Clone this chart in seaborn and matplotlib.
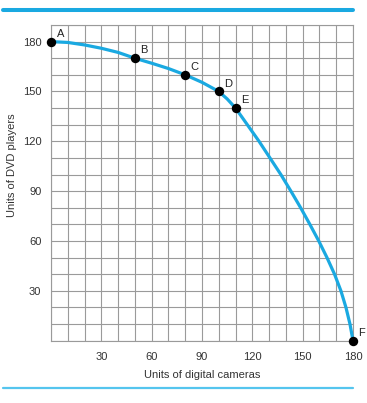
import matplotlib
matplotlib.use("Agg")
import matplotlib.pyplot as plt
import seaborn as sns
import pandas as pd
from matplotlib.lines import Line2D

sns.set_theme(style="white")
plt.rcParams['font.family'] = ['Liberation Sans', 'DejaVu Sans']

# curve
curve_x = [0, 10, 20, 30, 40, 50, 60, 70, 80, 90, 100, 105, 110, 117, 124, 130.5, 137, 143, 148.8, 154.3, 159.6, 164.5, 169, 172.8, 175.8, 178.2, 180]
curve_y = [180, 179.5, 178, 176, 173.5, 170, 167, 163.8, 160, 155.5, 150, 145.5, 140, 130, 120, 110, 100, 90, 80, 70, 60, 50, 40, 30, 20, 10, 0]

point_labels = ["A", "B", "C", "D", "E", "F"]
point_x = [0, 50, 80, 100, 110, 180]
point_y = [180, 170, 160, 150, 140, 0]

tick_vals = [30, 60, 90, 120, 150, 180]

curve = pd.DataFrame({"cameras": curve_x, "dvd": curve_y})
pts = pd.DataFrame({"cameras": point_x, "dvd": point_y, "label": point_labels})

fig = plt.figure(figsize=(3.67, 4.03), dpi=100)
ax = fig.add_axes([51/367, 1 - 340.7/403, 302/367, (340.7 - 25)/403])

sns.lineplot(data=curve, x="cameras", y="dvd", ax=ax, color="#1aa9e1", linewidth=2.3,
             sort=False, clip_on=False, zorder=3)
sns.scatterplot(data=pts, x="cameras", y="dvd", ax=ax, color="black", s=46,
                edgecolor="black", linewidth=0, clip_on=False, zorder=4)
for lab, xv, yv in zip(point_labels, point_x, point_y):
    ax.annotate(lab, (xv, yv), xytext=(4, 3.5), textcoords="offset points",
                fontsize=8, color="#222222", ha="left", va="baseline")

ax.set_xlim(0, 180)
ax.set_ylim(0, 190)
ax.set_xticks(range(0, 181, 10))
ax.set_yticks(range(0, 191, 10))
ax.set_xticklabels([str(v) if v in tick_vals else "" for v in range(0, 181, 10)])
ax.set_yticklabels([str(v) if v in tick_vals else "" for v in range(0, 191, 10)])
ax.tick_params(axis="both", length=0, labelsize=8, colors="#333333")
ax.tick_params(axis="x", pad=8)
ax.tick_params(axis="y", pad=7)
ax.grid(True, color="#9a9a9a", linewidth=0.8)
for s in ax.spines.values():
    s.set_color("#9a9a9a")
    s.set_linewidth(0.8)
ax.set_xlabel("Units of digital cameras", fontsize=8, color="#333333", labelpad=6)
ax.set_ylabel("Units of DVD players", fontsize=8, color="#333333")
ax.yaxis.set_label_coords(-0.113, 0.556)

fig.add_artist(Line2D([3/367, 353/367], [1 - 10/403, 1 - 10/403], color="#1aa9e1", linewidth=2.9))
fig.add_artist(Line2D([3/367, 353/367], [1 - 388/403, 1 - 388/403], color="#55c5ee", linewidth=1.6))

fig.savefig("out.png", dpi=100)
